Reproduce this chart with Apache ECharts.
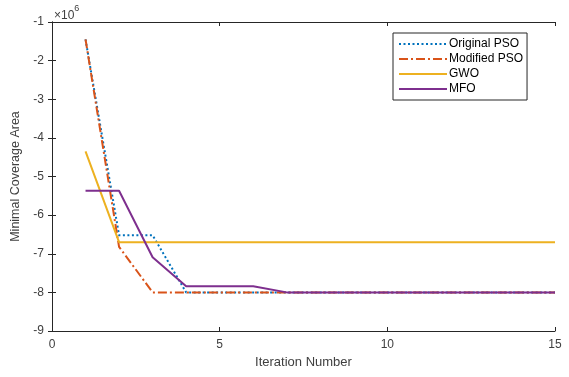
<!DOCTYPE html>
<html>
<head>
<meta charset="utf-8">
<script src="https://cdn.jsdelivr.net/npm/echarts@6/dist/echarts.min.js"></script>
<style>
  html, body { margin: 0; padding: 0; background: #fff; }
  #chart { width: 569px; height: 377px; }
</style>
</head>
<body>
<div id="chart"></div>
<script>
// iterations 1..15, values
const iterations = [1, 2, 3, 4, 5, 6, 7, 8, 9, 10, 11, 12, 13, 14, 15];
const originalPSO = [-1.45e6, -6.52e6, -6.52e6, -8.0e6, -8.0e6, -8.0e6, -8.0e6, -8.0e6, -8.0e6, -8.0e6, -8.0e6, -8.0e6, -8.0e6, -8.0e6, -8.0e6];
const modifiedPSO = [-1.45e6, -6.82e6, -8.0e6, -8.0e6, -8.0e6, -8.0e6, -8.0e6, -8.0e6, -8.0e6, -8.0e6, -8.0e6, -8.0e6, -8.0e6, -8.0e6, -8.0e6];
const gwo = [-4.35e6, -6.7e6, -6.7e6, -6.7e6, -6.7e6, -6.7e6, -6.7e6, -6.7e6, -6.7e6, -6.7e6, -6.7e6, -6.7e6, -6.7e6, -6.7e6, -6.7e6];
const mfo = [-5.37e6, -5.37e6, -7.09e6, -7.84e6, -7.84e6, -7.84e6, -8.0e6, -8.0e6, -8.0e6, -8.0e6, -8.0e6, -8.0e6, -8.0e6, -8.0e6, -8.0e6];
const seriesNames = ["Original PSO", "Modified PSO", "GWO", "MFO"];

const chart = echarts.init(document.getElementById("chart"));
const font = "Liberation Sans, Arial, sans-serif";
const axisColor = "#262626";
const labelColor = "#404040";

// 轴上显示为 ×10^6
const pair = ys => iterations.map((x, i) => [x, ys[i] / 1e6]);

// 坐标框：上、右两侧只画刻度
const boxAxis = {
  axisLine: { show: true, lineStyle: { color: axisColor, width: 1 } },
  axisTick: { show: true, inside: true, length: 4, lineStyle: { color: axisColor } },
  axisLabel: { show: false },
  splitLine: { show: false }
};

const option = {
  backgroundColor: "#fff",
  animation: false,
  grid: { left: 52, right: 14, top: 22, bottom: 46 },
  xAxis: [{
    type: "value", min: 0, max: 15, interval: 5,
    name: "Iteration Number", nameLocation: "middle", nameGap: 22,
    nameTextStyle: { color: labelColor, fontSize: 13, fontFamily: font },
    axisLine: { lineStyle: { color: axisColor, width: 1 } },
    axisTick: { inside: true, length: 4, lineStyle: { color: axisColor } },
    axisLabel: { color: labelColor, fontSize: 12, fontFamily: font, margin: 8 },
    splitLine: { show: false }
  }, Object.assign({ type: "value", min: 0, max: 15, interval: 5, position: "top" }, boxAxis)],
  yAxis: [{
    type: "value", min: -9, max: -1, interval: 1,
    name: "Minimal Coverage Area", nameLocation: "middle", nameGap: 28,
    nameTextStyle: { color: labelColor, fontSize: 12.5, fontFamily: font },
    axisLine: { show: true, lineStyle: { color: axisColor, width: 1 } },
    axisTick: { show: true, inside: true, length: 4, lineStyle: { color: axisColor } },
    axisLabel: { color: labelColor, fontSize: 12, fontFamily: font, margin: 8 },
    splitLine: { show: false }
  }, Object.assign({ type: "value", min: -9, max: -1, interval: 1, position: "right" }, boxAxis)],
  legend: {
    data: seriesNames,
    orient: "vertical",
    left: 393, top: 33,
    itemWidth: 48, itemHeight: 10, itemGap: 3,
    padding: [5, 4, 5, 5],
    borderColor: axisColor, borderWidth: 1, backgroundColor: "#fff",
    itemStyle: { opacity: 0 },
    textStyle: { color: "#000", fontSize: 12, fontFamily: font, padding: [0, 0, 0, -3] }
  },
  graphic: [{
    type: "text", left: 54, top: 4,
    style: {
      text: "{a|×10}{b|6}",
      rich: {
        a: { fontSize: 12, fontFamily: font, fill: labelColor, padding: [6, 0, 0, 0] },
        b: { fontSize: 9, fontFamily: font, fill: labelColor, verticalAlign: "top" }
      }
    }
  }],
  series: [
    { name: seriesNames[0], type: "line", data: pair(originalPSO), symbol: "none",
      lineStyle: { color: "#0072BD", width: 2, type: [2, 2.5] }, itemStyle: { color: "#0072BD" } },
    { name: seriesNames[1], type: "line", data: pair(modifiedPSO), symbol: "none",
      lineStyle: { color: "#D95319", width: 2, type: [9, 3, 2, 3] }, itemStyle: { color: "#D95319" } },
    { name: seriesNames[2], type: "line", data: pair(gwo), symbol: "none",
      lineStyle: { color: "#EDB120", width: 2 }, itemStyle: { color: "#EDB120" } },
    { name: seriesNames[3], type: "line", data: pair(mfo), symbol: "none",
      lineStyle: { color: "#7E2F8E", width: 2 }, itemStyle: { color: "#7E2F8E" } }
  ]
};

chart.setOption(option);
</script>
</body>
</html>
